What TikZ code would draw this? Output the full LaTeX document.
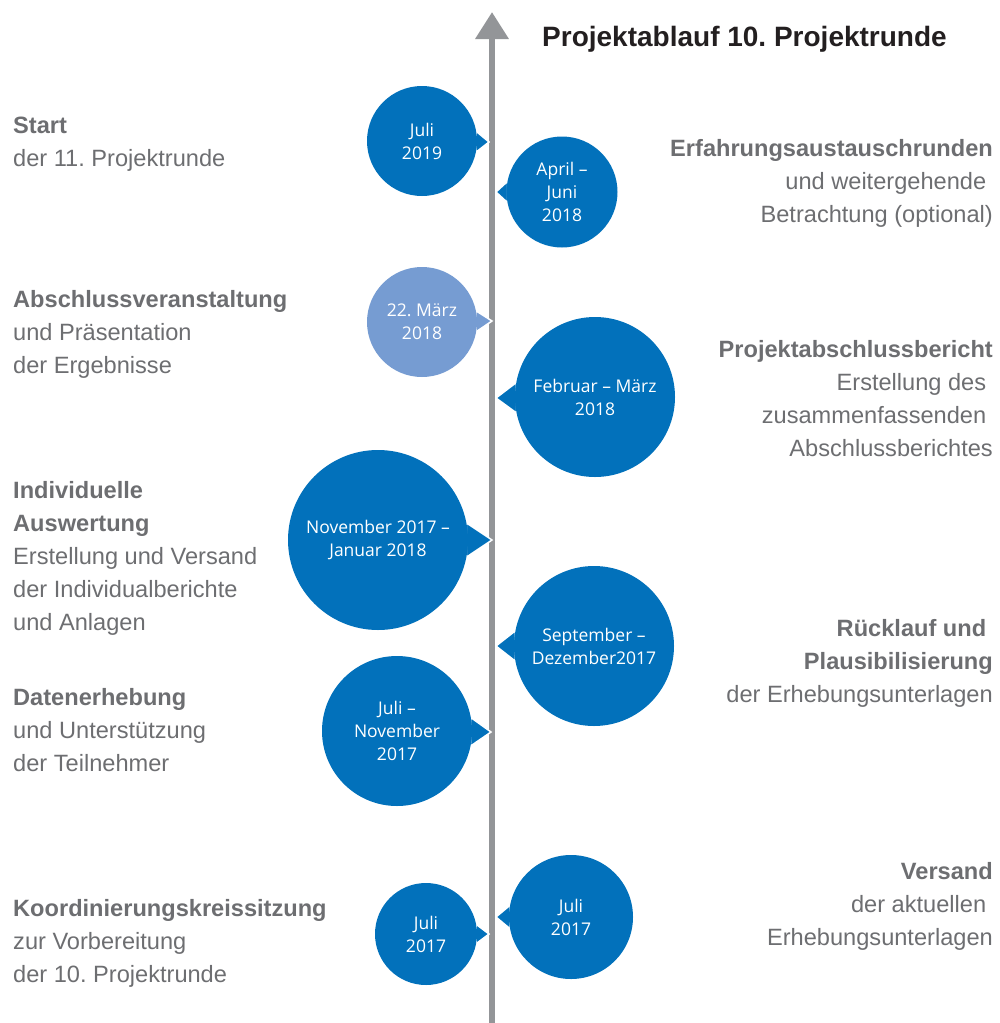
\documentclass[tikz,border=0pt]{standalone}
\usepackage{fontspec}
\setmainfont{Liberation Sans}
\newfontfamily\bubfont{Open Sans}
\usetikzlibrary{calc,arrows.meta}
\definecolor{bblue}{HTML}{0271BB}
\definecolor{lblue}{HTML}{769CD2}
\definecolor{axgray}{HTML}{939598}
\definecolor{txtgray}{HTML}{6D6E71}
\definecolor{titlec}{HTML}{231F20}
\frenchspacing
\newcommand\mybubble[8]{%
  \coordinate (#1c) at (#2,#3);
  \coordinate (#1tip) at (#5,#6);
  \fill[ptr=#7] ($(#1c)!#4pt!11:(#1tip)$) -- (#1tip) -- ($(#1c)!#4pt!-11:(#1tip)$) -- cycle;
  \node[bub=#7, minimum size=2*#4pt] (#1) at (#1c) {#8};
}
\begin{document}
\begin{tikzpicture}[x=1pt,y=-1pt,
  lbl/.style={inner sep=0pt, text=txtgray, font=\fontsize{23.6}{33}\selectfont},
  bub/.style={circle, inner sep=0pt, fill=#1, text=white, align=center,
              font=\bubfont\fontsize{17.5}{23}\selectfont},
  ptr/.style={fill=#1, draw=white, line width=1.5pt, line join=miter}]
\useasboundingbox (0,0) rectangle (999,1023);

% axis
\coordinate (ax0) at (492,1030);
\coordinate (ax1) at (492,12);
\draw[axgray, line width=6.5pt, -{Triangle[width=32pt,length=27pt]}] (ax0) -- (ax1);

% title
\node[inner sep=0pt, anchor=base west, text=titlec, font=\bfseries\fontsize{28}{34}\selectfont] (title) at (542,46) {Projektablauf 10. Projektrunde};

% bubbles
\mybubble{b1}{422}{141}{55}{489}{142}{bblue}{Juli\\2019}
\mybubble{b2}{562}{192}{55.5}{496}{192}{bblue}{April –\\Juni\\2018}
\mybubble{b3}{422}{322}{55}{492}{321}{lblue}{22. März\\2018}
\mybubble{b4}{595}{397}{80}{496}{398}{bblue}{Februar – März\\2018}
\mybubble{b5}{378}{540}{90}{492}{540}{bblue}{November 2017 –\\Januar 2018}
\mybubble{b6}{594}{646}{80}{496}{646}{bblue}{September –\\Dezember2017}
\mybubble{b7}{397}{731}{75}{491}{732}{bblue}{Juli –\\November\\2017}
\mybubble{b8}{426}{934}{51}{489}{934}{bblue}{Juli\\2017}
\mybubble{b9}{571}{917}{62}{496}{917}{bblue}{Juli\\2017}

% left texts
\node[lbl, anchor=base west] (t1) at (13,133) {\begin{tabular}[t]{@{}l@{}}\textbf{Start}\\der 11. Projektrunde\end{tabular}};
\node[lbl, anchor=base west] (t2) at (13,307) {\begin{tabular}[t]{@{}l@{}}\textbf{Abschlussveranstaltung}\\und Präsentation\\der Ergebnisse\end{tabular}};
\node[lbl, anchor=base west] (t3) at (13,498) {\begin{tabular}[t]{@{}l@{}}\textbf{Individuelle}\\\textbf{Auswertung}\\Erstellung und Versand\\der Individualberichte\\und Anlagen\end{tabular}};
\node[lbl, anchor=base west] (t4) at (13,705) {\begin{tabular}[t]{@{}l@{}}\textbf{Datenerhebung}\\und Unterstützung\\der Teilnehmer\end{tabular}};
\node[lbl, anchor=base west] (t5) at (13,916) {\begin{tabular}[t]{@{}l@{}}\textbf{Koordinierungskreissitzung}\\zur Vorbereitung\\der 10. Projektrunde\end{tabular}};

% right texts
\node[lbl, anchor=base east] (r1) at (993,156) {\begin{tabular}[t]{@{}r@{}}\textbf{Erfahrungsaustauschrunden}\\und weitergehende\kern6.6pt\\Betrachtung (optional)\end{tabular}};
\node[lbl, anchor=base east] (r2) at (993,357) {\begin{tabular}[t]{@{}r@{}}\textbf{Projektabschlussbericht}\\Erstellung des\kern6.6pt\\zusammenfassenden\kern6.6pt\\Abschlussberichtes\end{tabular}};
\node[lbl, anchor=base east] (r3) at (993,636) {\begin{tabular}[t]{@{}r@{}}\textbf{Rücklauf und}\kern6.6pt\\\textbf{Plausibilisierung}\\der Erhebungsunterlagen\end{tabular}};
\node[lbl, anchor=base east] (r4) at (993,879) {\begin{tabular}[t]{@{}r@{}}\textbf{Versand}\\der aktuellen\kern6.6pt\\Erhebungsunterlagen\end{tabular}};
\end{tikzpicture}
\end{document}
